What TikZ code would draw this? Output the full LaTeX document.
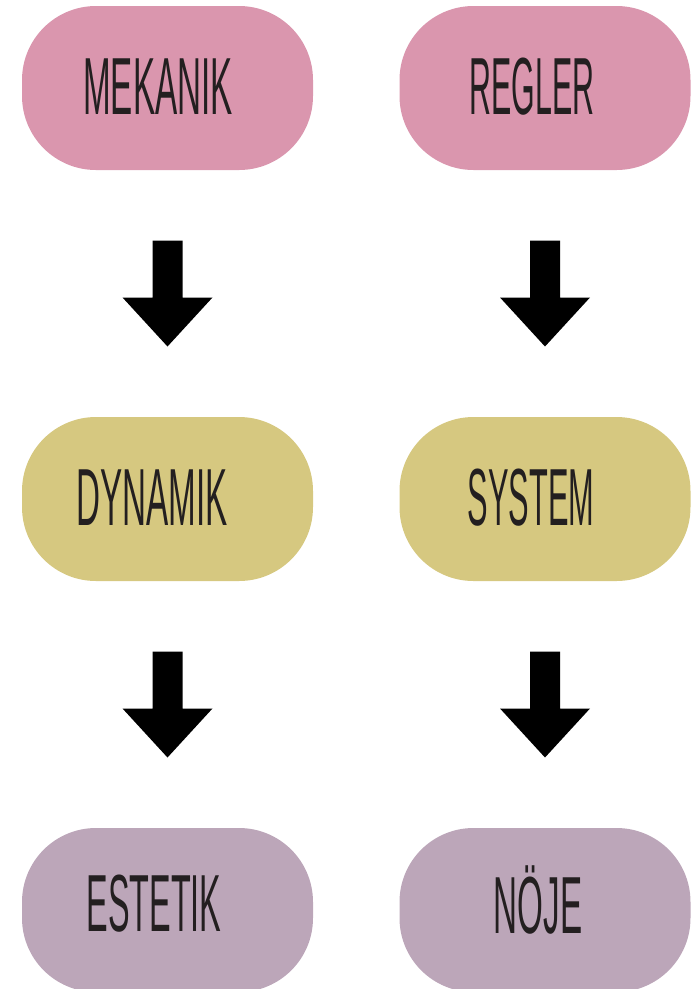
\documentclass[tikz,border=0pt]{standalone}
\usepackage{fontspec}
\setmainfont{Liberation Sans}
\usetikzlibrary{calc}
\definecolor{boxpink}{RGB}{218,150,174}
\definecolor{boxyellow}{RGB}{214,200,128}
\definecolor{boxmauve}{RGB}{188,166,185}
\definecolor{ink}{RGB}{35,31,32}
% thin, tall capitals: a wide sans squeezed horizontally
\newcommand{\capword}[2]{\scalebox{#1}[1]{\fontsize{81pt}{81pt}\selectfont #2}}
\tikzset{
  pill/.style={rounded corners=74pt, minimum width=291pt, minimum height=164pt,
    inner sep=0pt, draw=none},
  word/.style={text=ink, inner sep=0pt, anchor=center},
  blockarrow/.style={fill=black, draw=none}
}
% block arrow pointing down, centred on the given coordinate
\newcommand{\downarrowat}[1]{%
  \fill[blockarrow] ($(#1)+(-15,-53)$) -- ($(#1)+(15,-53)$) -- ($(#1)+(15,4)$)
    -- ($(#1)+(45,4)$) -- ($(#1)+(0,53)$) -- ($(#1)+(-45,4)$) -- ($(#1)+(-15,4)$) -- cycle;}
\begin{document}
\begin{tikzpicture}[x=1pt,y=-1pt]
  \useasboundingbox (0,0) rectangle (693,989);
  % boxes
  \node[pill, fill=boxpink]   (mek) at (167.5,88)  {};
  \node[pill, fill=boxpink]   (reg) at (545,88)    {};
  \node[pill, fill=boxyellow] (dyn) at (167.5,499) {};
  \node[pill, fill=boxyellow] (sys) at (545,499)   {};
  \node[pill, fill=boxmauve]  (est) at (167.5,910) {};
  \node[pill, fill=boxmauve]  (noj) at (545,910)   {};
  % labels
  \node[word] (tmek) at (158,87)  {\capword{0.41}{MEKANIK}};
  \node[word] (treg) at (532,87)  {\capword{0.375}{REGLER}};
  \node[word] (tdyn) at (152,498) {\capword{0.41}{DYNAMIK}};
  \node[word] (tsys) at (531,498) {\capword{0.38}{SYSTEM}};
  \node[word] (test) at (154,904) {\capword{0.40}{ESTETIK}};
  \node[word, anchor=south] (tnoj) at (538,934) {\capword{0.41}{NÖJE}};
  % arrows between rows
  \coordinate (a1) at ($(mek.south)!0.5!(dyn.north)$);
  \coordinate (a2) at ($(reg.south)!0.5!(sys.north)$);
  \coordinate (a3) at ($(dyn.south)!0.5!(est.north)$);
  \coordinate (a4) at ($(sys.south)!0.5!(noj.north)$);
  \downarrowat{a1}
  \downarrowat{a2}
  \downarrowat{a3}
  \downarrowat{a4}
\end{tikzpicture}
\end{document}
